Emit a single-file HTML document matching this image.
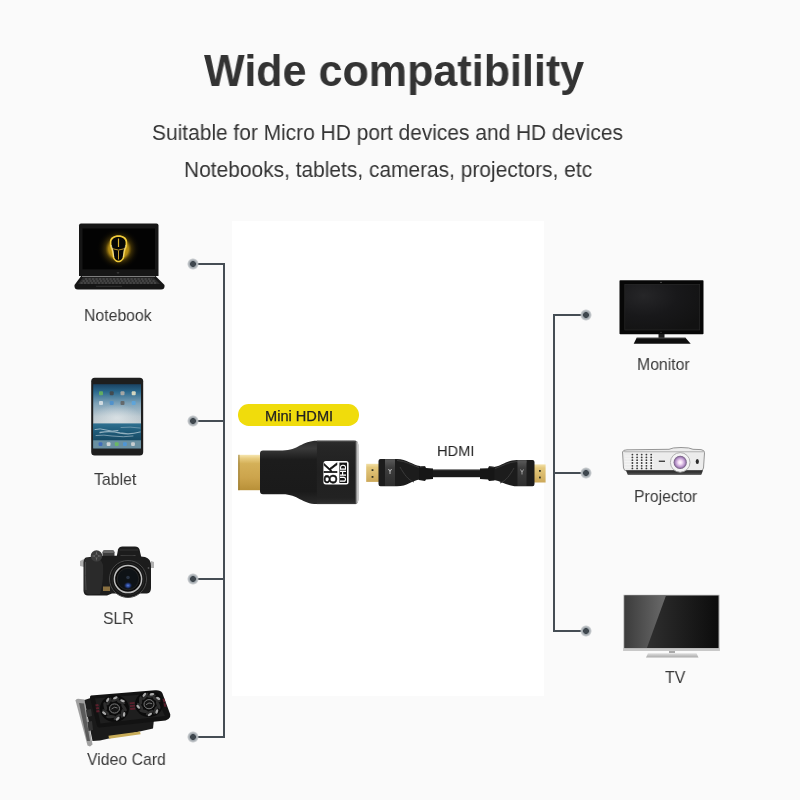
<!DOCTYPE html>
<html><head><meta charset="utf-8">
<style>
html,body{margin:0;padding:0;}
body{width:800px;height:800px;position:relative;overflow:hidden;background:#fafafa;font-family:"Liberation Sans",sans-serif;}
.a{position:absolute;}
.t{position:absolute;white-space:nowrap;line-height:1;will-change:transform;}
.title{font-weight:bold;font-size:44px;color:#333;transform-origin:0 0;transform:scaleX(0.979);}
.sub{font-size:22px;color:#333;transform-origin:0 0;transform:scaleX(0.951);}
.lbl{font-size:17px;color:#3a3a3a;transform-origin:0 0;transform:scaleX(0.93);}
.ln{position:absolute;background:#454d54;}
.dot{position:absolute;width:12px;height:12px;border-radius:50%;background:radial-gradient(circle at center,#3f474e 0,#3f474e 2.6px,#9ba2a8 3.2px,#b6bbbf 4.4px,rgba(190,194,198,0.6) 5.3px,rgba(250,250,250,0) 6px);}
</style></head>
<body>
<div class="a" style="left:232px;top:221px;width:312px;height:475px;background:#fff"></div>

<div class="t title" id="title" style="left:203.5px;top:48.5px">Wide compatibility</div>
<div class="t sub" id="sub1" style="left:152px;top:121.7px">Suitable for Micro HD port devices and HD devices</div>
<div class="t sub" id="sub2" style="left:184px;top:158.5px">Notebooks, tablets, cameras, projectors, etc</div>

<!-- left connector lines -->
<div class="ln" style="left:223px;top:263px;width:2px;height:475px"></div>
<div class="ln" style="left:193px;top:263px;width:31px;height:2px"></div>
<div class="ln" style="left:193px;top:420px;width:31px;height:2px"></div>
<div class="ln" style="left:193px;top:578px;width:31px;height:2px"></div>
<div class="ln" style="left:193px;top:736px;width:31px;height:2px"></div>
<div class="dot" style="left:187.0px;top:258.0px"></div>
<div class="dot" style="left:187.0px;top:415.0px"></div>
<div class="dot" style="left:187.0px;top:573.0px"></div>
<div class="dot" style="left:187.0px;top:731.0px"></div>

<!-- right connector lines -->
<div class="ln" style="left:553px;top:314px;width:2px;height:318px"></div>
<div class="ln" style="left:553px;top:314px;width:33px;height:2px"></div>
<div class="ln" style="left:553px;top:472px;width:33px;height:2px"></div>
<div class="ln" style="left:553px;top:630px;width:33px;height:2px"></div>
<div class="dot" style="left:580.0px;top:309.0px"></div>
<div class="dot" style="left:580.0px;top:467.0px"></div>
<div class="dot" style="left:580.0px;top:625.0px"></div>


<svg class="a" style="left:0;top:0" width="800" height="800" viewBox="0 0 800 800">
<defs>
<radialGradient id="glow" cx="0.5" cy="0.5" r="0.5">
<stop offset="0" stop-color="#f0c020" stop-opacity="1"/>
<stop offset="0.45" stop-color="#d8a818" stop-opacity="0.8"/>
<stop offset="0.6" stop-color="#9a760c" stop-opacity="0.35"/>
<stop offset="0.8" stop-color="#5a4406" stop-opacity="0.12"/>
<stop offset="1" stop-color="#000" stop-opacity="0"/>
</radialGradient>
<linearGradient id="tabscr" x1="0" y1="0" x2="0" y2="1">
<stop offset="0" stop-color="#1a4262"/>
<stop offset="0.12" stop-color="#2c6a8e"/>
<stop offset="0.3" stop-color="#7ea2b8"/>
<stop offset="0.5" stop-color="#b8c6ce"/>
<stop offset="0.61" stop-color="#c6ced2"/>
<stop offset="0.62" stop-color="#2a6a88"/>
<stop offset="1" stop-color="#3d6d84"/>
</linearGradient>
<linearGradient id="sea" x1="0" y1="0" x2="0" y2="1">
<stop offset="0" stop-color="#2f7090"/>
<stop offset="0.5" stop-color="#1e5a78"/>
<stop offset="1" stop-color="#174a64"/>
</linearGradient>
<linearGradient id="gold" x1="0" y1="0" x2="0" y2="1">
<stop offset="0" stop-color="#d8b868"/>
<stop offset="0.5" stop-color="#c89a3c"/>
<stop offset="1" stop-color="#b08030"/>
</linearGradient>
<radialGradient id="lensp" cx="0.5" cy="0.5" r="0.5">
<stop offset="0" stop-color="#ffffff"/>
<stop offset="0.3" stop-color="#f4dcf4"/>
<stop offset="0.7" stop-color="#b894cc"/>
<stop offset="1" stop-color="#6a5478"/>
</radialGradient>
<linearGradient id="tvscr" x1="0" y1="0" x2="1" y2="0">
<stop offset="0" stop-color="#3a3a3a"/>
<stop offset="1" stop-color="#0c0c0c"/>
</linearGradient>
<linearGradient id="refl" x1="0" y1="0" x2="1" y2="0">
<stop offset="0" stop-color="#3c3c3c"/>
<stop offset="1" stop-color="#727272"/>
</linearGradient>
<radialGradient id="bluel" cx="0.5" cy="0.5" r="0.5">
<stop offset="0" stop-color="#5a80e0"/>
<stop offset="0.5" stop-color="#2a48a0" stop-opacity="0.8"/>
<stop offset="1" stop-color="#101830" stop-opacity="0"/>
</radialGradient>
<linearGradient id="pbase" x1="0" y1="0" x2="0" y2="1">
<stop offset="0" stop-color="#2a2a2a"/>
<stop offset="0.6" stop-color="#3a3a3a"/>
<stop offset="1" stop-color="#707070"/>
</linearGradient>
<radialGradient id="monscr" cx="0.25" cy="0.25" r="0.9">
<stop offset="0" stop-color="#262628"/>
<stop offset="0.5" stop-color="#18181a"/>
<stop offset="1" stop-color="#121212"/>
</radialGradient>
<linearGradient id="stand" x1="0" y1="0" x2="0" y2="1">
<stop offset="0" stop-color="#e0e0e0"/>
<stop offset="1" stop-color="#a8a8a8"/>
</linearGradient>
<radialGradient id="skyglow" cx="0.5" cy="0.5" r="0.5">
<stop offset="0" stop-color="#e4eaec" stop-opacity="0.7"/>
<stop offset="1" stop-color="#e4eaec" stop-opacity="0"/>
</radialGradient>
<clipPath id="tabclip"><rect x="93.2" y="384.2" width="47.8" height="39.3"/></clipPath>
<clipPath id="lapclip"><rect x="82.5" y="228.5" width="72.5" height="40.8"/></clipPath>
<linearGradient id="wide" x1="0" y1="0" x2="0" y2="1">
<stop offset="0" stop-color="#2c2c2c"/>
<stop offset="0.1" stop-color="#262626"/>
<stop offset="0.5" stop-color="#202020"/>
<stop offset="0.9" stop-color="#222"/>
<stop offset="1" stop-color="#2e2e2e"/>
</linearGradient>
</defs>

<!-- ===== Laptop ===== -->
<path d="M79,225.5 Q79,223.5 81,223.5 L156.5,223.5 Q158.5,223.5 158.5,225.5 L158.5,276 L79,276 Z" fill="#161616"/>
<rect x="82.5" y="228.5" width="72.5" height="40.8" fill="#030303"/>
<ellipse cx="118.5" cy="249" rx="22" ry="21" fill="url(#glow)" clip-path="url(#lapclip)"/>
<path d="M118.5,235.3 C123,235.3 127.2,237.5 127.2,242 L127,246.5 L125.2,251 L124.2,257.5 C123.5,260 121,262.3 118.5,262.3 C116,262.3 113.5,260 112.8,257.5 L111.8,251 L110,246.5 L109.8,242 C109.8,237.5 114,235.3 118.5,235.3 Z" fill="#f2cc3a"/>
<path d="M118.5,237 C122,237 125.6,238.8 125.6,242.5 L125.4,246.5 L123.8,250.5 L122.8,257 C122.2,259.3 120.5,260.8 118.5,260.8 C116.5,260.8 114.8,259.3 114.2,257 L113.2,250.5 L111.6,246.5 L111.4,242.5 C111.4,238.8 115,237 118.5,237 Z" fill="#060606"/>
<path d="M118.5,238.5 L118.5,247" stroke="#d8b030" stroke-width="1.2"/>
<path d="M112,248.6 Q118.5,251.5 125,248.6" stroke="#c8a030" stroke-width="0.9" fill="none"/>
<path d="M118.5,250.5 L118.5,259.5" stroke="#c8a030" stroke-width="1"/>
<path d="M111.2,245 L113,251 L113.8,257" stroke="#f8f0d0" stroke-width="0.8" fill="none" opacity="0.8"/>
<path d="M125.8,245 L124,251 L123.2,257" stroke="#f8f0d0" stroke-width="0.8" fill="none" opacity="0.6"/>
<path d="M117,272 L118,273.5 L119,272" stroke="#555" stroke-width="0.6" fill="none"/>
<path d="M81.5,275.5 L155,275.5 L164.5,285 Q165,289.5 161,289.5 L78,289.5 Q74,289.5 74.5,285 Z" fill="#161616"/>
<path d="M82,276.5 L155,276.5" stroke="#8a8a8a" stroke-width="0.9"/>
<path d="M83,277.5 L153.5,277.5 L160,284 L78,284 Z" fill="#2c2c2c"/>
<g stroke="#5a5a5a" stroke-width="1" stroke-dasharray="2.2,1.3">
<path d="M85,279 L152,279"/>
<path d="M82.5,281 L155,281"/>
<path d="M80.5,283 L157.5,283"/>
</g>
<path d="M96,286.3 L122,286.3" stroke="#3a3a3a" stroke-width="0.8"/>

<!-- ===== Tablet ===== -->
<rect x="91.2" y="377.7" width="52" height="77.8" rx="3.5" fill="#1e1e1e"/>
<rect x="93.2" y="384.2" width="47.8" height="64.2" fill="url(#tabscr)"/>
<ellipse cx="117" cy="418" rx="24" ry="14" fill="url(#skyglow)" clip-path="url(#tabclip)"/>
<rect x="93.2" y="423.5" width="47.8" height="17" fill="url(#sea)"/>
<g stroke="#dfeaf0" stroke-linecap="round" fill="none" opacity="0.6">
<path d="M95,429.5 Q100,428 106,430 T118,430.5" stroke-width="1"/>
<path d="M100,432.5 Q110,430.5 120,433 Q130,435 140,432" stroke-width="1.3"/>
<path d="M96,435.5 Q104,434.5 112,436 Q124,437.5 133,436" stroke-width="0.8"/>
<path d="M121,427.5 Q130,426.5 140,428" stroke-width="0.6"/>
</g>
<rect x="93.2" y="440.3" width="47.8" height="8.1" fill="#7b9cab" opacity="0.75"/>
<g opacity="0.85">
<rect x="99" y="391.2" width="4" height="4" rx="1" fill="#6ab85a"/>
<rect x="109.7" y="391.2" width="4" height="4" rx="1" fill="#444"/>
<rect x="120.5" y="391.2" width="4" height="4" rx="1" fill="#b8b0a8"/>
<rect x="131.7" y="391.2" width="4" height="4" rx="1" fill="#f0e8c8"/>
<rect x="99" y="401" width="4" height="4" rx="1" fill="#e0e6e8"/>
<rect x="109.7" y="401" width="4" height="4" rx="1" fill="#4a90d0"/>
<rect x="120.5" y="401" width="4" height="4" rx="1" fill="#606060"/>
<rect x="131.7" y="401" width="4" height="4" rx="1" fill="#5aa6e0"/>
<rect x="98.6" y="442.3" width="3.8" height="3.8" rx="1" fill="#3a68c0"/>
<rect x="106.7" y="442.3" width="3.8" height="3.8" rx="1" fill="#e0e0e0"/>
<rect x="114.8" y="442.3" width="3.8" height="3.8" rx="1" fill="#6ac05a"/>
<rect x="123" y="442.3" width="3.8" height="3.8" rx="1" fill="#4a98e0"/>
<rect x="131.1" y="442.3" width="3.8" height="3.8" rx="1" fill="#d8d8d8"/>
</g>
<!-- ===== Camera ===== -->
<path d="M80,561 L84,559 L84,567 L80,566 Z" fill="#b0b0b0"/>
<path d="M151,561 L154,562 L154,568 L151,568 Z" fill="#b0b0b0"/>
<path d="M116.5,558 L118,549.5 Q119,546.5 122.5,546.5 L135,546.5 Q138.5,546.5 139.5,549.5 L141.5,558 Z" fill="#1c1c1c"/>
<path d="M119.5,550 L138,550" stroke="#3a3a3a" stroke-width="0.8"/>
<rect x="120.5" y="555.6" width="15" height="1.3" fill="#9a9a9a"/>
<rect x="102.5" y="550.3" width="12" height="8" rx="2" fill="#3e3e3e"/>
<rect x="103" y="550.5" width="11" height="2.5" rx="1" fill="#6a6a6a"/>
<path d="M86,557.5 Q84,558 83.5,562 L83.5,591 Q84,595.5 88,595.5 L107,595.5 L112,593.5 L147,593.5 Q151,593 151,588 L151,566 Q151,558.5 145,557 L132,555.5 L98,556 Z" fill="#1c1c1c"/>
<path d="M86,558 Q84,560 84,566 L84,590 Q85,594 90,594.5 L100,594 Q104,580 103,565 Q101,558 95,557.5 Z" fill="#2a2a2a"/>
<path d="M85.5,562 Q85,575 86,590" stroke="#4a4a4a" stroke-width="1" fill="none"/>
<circle cx="96.5" cy="556" r="5.8" fill="#3c3c3c"/>
<path d="M96.5,551 L97.5,555 L101.5,556 L97.5,557 L96.5,561 L95.5,557 L91.5,556 L95.5,555 Z" fill="#6a6a6a"/>
<circle cx="96.5" cy="556" r="1.6" fill="#3a3a3a"/>
<rect x="103" y="586.5" width="7" height="4.5" fill="#8a7040"/>
<circle cx="128" cy="579" r="18.5" fill="#141414" stroke="#4a4a4a" stroke-width="1"/>
<circle cx="128" cy="579" r="16" fill="none" stroke="#262626" stroke-width="1.2"/>
<circle cx="128" cy="579" r="13.6" fill="#0a0a0a" stroke="#bcbcbc" stroke-width="1.5"/>
<circle cx="128" cy="579" r="10.8" fill="#0e1216" stroke="#2a2a2a" stroke-width="0.8"/>
<ellipse cx="128" cy="585.5" rx="4.5" ry="3.8" fill="url(#bluel)"/>
<circle cx="128" cy="577.5" r="1.8" fill="#2a3444"/>
<circle cx="148.5" cy="568" r="0.9" fill="#555"/>
<!-- ===== Video card ===== -->
<path d="M75.5,700.5 Q76,698.8 78,698.8 L84.5,699.5 L92.5,744.5 L90,746.5 L87.5,745.5 Z" fill="#a0a0a0"/>
<path d="M79,703 L84,703.5 L90,741 L87,741 Z" fill="#5a5a5a"/>
<path d="M84.5,700 L92,697.5 L154,719 L153,728.5 L100,740.5 L92.5,741 Z" fill="#1a1a1a"/>
<path d="M86,710 L91,709 L92,716 L87,717 Z M87.5,722 L92,721 L93,730 L88.5,731 Z" fill="#333"/>
<path d="M108.5,735.8 L140,731.5 L140.6,734.2 L109,738.8 Z" fill="#c8ac58"/>
<path d="M91,695.5 L155,690.3 Q160.5,689.8 162.3,693 L170.3,714.5 Q170.8,717 168.5,719 L165.5,720.6 L99.5,727.6 Q97.5,727.8 97,725.8 L90,698 Q89.8,695.8 91,695.5 Z" fill="#121212"/>
<path d="M95,698.5 L154,693.5 L165,716 L100.5,723.5 Z" fill="#1e1e1e"/>
<ellipse cx="114.5" cy="708.5" rx="14.5" ry="13.34" fill="#0b0b0b"/>
<ellipse cx="108.87" cy="701.38" rx="4.4" ry="1.6" transform="rotate(-61.1 108.87 701.38)" fill="#2e2e2e"/>
<ellipse cx="115.16" cy="699.72" rx="4.4" ry="1.6" transform="rotate(-21.1 115.16 699.72)" fill="#2e2e2e"/>
<ellipse cx="121.14" cy="702.16" rx="4.4" ry="1.6" transform="rotate(18.9 121.14 702.16)" fill="#2e2e2e"/>
<ellipse cx="124.02" cy="707.57" rx="4.4" ry="1.6" transform="rotate(58.9 124.02 707.57)" fill="#2e2e2e"/>
<ellipse cx="122.44" cy="713.42" rx="4.4" ry="1.6" transform="rotate(98.9 122.44 713.42)" fill="#2e2e2e"/>
<ellipse cx="117.15" cy="716.96" rx="4.4" ry="1.6" transform="rotate(138.9 117.15 716.96)" fill="#2e2e2e"/>
<ellipse cx="110.62" cy="716.55" rx="4.4" ry="1.6" transform="rotate(178.9 110.62 716.55)" fill="#2e2e2e"/>
<ellipse cx="105.90" cy="712.37" rx="4.4" ry="1.6" transform="rotate(218.9 105.90 712.37)" fill="#2e2e2e"/>
<ellipse cx="105.21" cy="706.38" rx="4.4" ry="1.6" transform="rotate(258.9 105.21 706.38)" fill="#2e2e2e"/>
<ellipse cx="107.67" cy="699.87" rx="2.4" ry="1.2" transform="rotate(-61.1 107.67 699.87)" fill="#cfcfcf" opacity="0.8"/>
<ellipse cx="115.30" cy="697.85" rx="2.4" ry="1.2" transform="rotate(-21.1 115.30 697.85)" fill="#cfcfcf" opacity="0.8"/>
<ellipse cx="122.55" cy="700.82" rx="2.4" ry="1.2" transform="rotate(18.9 122.55 700.82)" fill="#cfcfcf" opacity="0.8"/>
<ellipse cx="124.12" cy="714.46" rx="2.4" ry="1.2" transform="rotate(98.9 124.12 714.46)" fill="#cfcfcf" opacity="0.8"/>
<ellipse cx="117.71" cy="718.76" rx="2.4" ry="1.2" transform="rotate(138.9 117.71 718.76)" fill="#cfcfcf" opacity="0.8"/>
<ellipse cx="104.08" cy="713.19" rx="2.4" ry="1.2" transform="rotate(218.9 104.08 713.19)" fill="#cfcfcf" opacity="0.8"/>
<ellipse cx="114.5" cy="708.5" rx="5" ry="4.60" fill="#141414" stroke="#7a7a7a" stroke-width="1"/>
<path d="M111.5,709.0 Q114.5,706.0 117.5,708.0" stroke="#8a8a8a" stroke-width="0.8" fill="none"/>
<ellipse cx="149" cy="704.2" rx="14" ry="12.88" fill="#0b0b0b"/>
<ellipse cx="145.15" cy="696.47" rx="4.4" ry="1.6" transform="rotate(-49.6 145.15 696.47)" fill="#2e2e2e"/>
<ellipse cx="151.46" cy="696.00" rx="4.4" ry="1.6" transform="rotate(-9.6 151.46 696.00)" fill="#2e2e2e"/>
<ellipse cx="156.61" cy="699.37" rx="4.4" ry="1.6" transform="rotate(30.4 156.61 699.37)" fill="#2e2e2e"/>
<ellipse cx="158.20" cy="705.00" rx="4.4" ry="1.6" transform="rotate(70.4 158.20 705.00)" fill="#2e2e2e"/>
<ellipse cx="155.49" cy="710.25" rx="4.4" ry="1.6" transform="rotate(110.4 155.49 710.25)" fill="#2e2e2e"/>
<ellipse cx="149.74" cy="712.67" rx="4.4" ry="1.6" transform="rotate(150.4 149.74 712.67)" fill="#2e2e2e"/>
<ellipse cx="143.65" cy="711.13" rx="4.4" ry="1.6" transform="rotate(190.4 143.65 711.13)" fill="#2e2e2e"/>
<ellipse cx="140.06" cy="706.34" rx="4.4" ry="1.6" transform="rotate(230.4 140.06 706.34)" fill="#2e2e2e"/>
<ellipse cx="140.65" cy="700.55" rx="4.4" ry="1.6" transform="rotate(270.4 140.65 700.55)" fill="#2e2e2e"/>
<ellipse cx="144.34" cy="694.83" rx="2.4" ry="1.2" transform="rotate(-49.6 144.34 694.83)" fill="#cfcfcf" opacity="0.8"/>
<ellipse cx="151.98" cy="694.27" rx="2.4" ry="1.2" transform="rotate(-9.6 151.98 694.27)" fill="#cfcfcf" opacity="0.8"/>
<ellipse cx="158.22" cy="698.35" rx="2.4" ry="1.2" transform="rotate(30.4 158.22 698.35)" fill="#cfcfcf" opacity="0.8"/>
<ellipse cx="156.86" cy="711.54" rx="2.4" ry="1.2" transform="rotate(110.4 156.86 711.54)" fill="#cfcfcf" opacity="0.8"/>
<ellipse cx="149.90" cy="714.47" rx="2.4" ry="1.2" transform="rotate(150.4 149.90 714.47)" fill="#cfcfcf" opacity="0.8"/>
<ellipse cx="138.16" cy="706.80" rx="2.4" ry="1.2" transform="rotate(230.4 138.16 706.80)" fill="#cfcfcf" opacity="0.8"/>
<ellipse cx="149" cy="704.2" rx="5" ry="4.60" fill="#141414" stroke="#7a7a7a" stroke-width="1"/>
<path d="M146,704.7 Q149,701.7 152,703.7" stroke="#8a8a8a" stroke-width="0.8" fill="none"/>
<g fill="#6a2030" opacity="0.8"><path d="M95.2,704.5 L98.2,704 L98.8,706 L95.8,706.5 Z M95.6,707.5 L98.6,707 L99.2,709 L96.2,709.5 Z M96,710.5 L99,710 L99.6,712 L96.6,712.5 Z"/><path d="M129.5,702.5 L134.5,702 L134.8,703.8 L129.8,704.3 Z M129.8,705.3 L134.8,704.8 L135.1,706.6 L130.1,707.1 Z M130.1,708.1 L135.1,707.6 L135.4,709.4 L130.4,709.9 Z"/><path d="M162.5,699 L164.5,698.6 L165.5,702 L163.5,702.4 Z M163.5,703.5 L165.5,703.1 L166.5,706.5 L164.5,706.9 Z"/></g>
<!-- ===== Monitor ===== -->
<rect x="619.5" y="280.2" width="84" height="54" rx="0.8" fill="#070707"/>
<rect x="624.8" y="284.3" width="74.9" height="45.7" fill="url(#monscr)"/>
<rect x="624.8" y="284.3" width="74.9" height="45.7" fill="none" stroke="#2c2c2c" stroke-width="0.6"/>
<circle cx="661" cy="282.3" r="0.6" fill="#888"/>
<circle cx="661" cy="332.2" r="0.5" fill="#666"/>
<rect x="658.5" y="334" width="6" height="4.5" fill="#1c1c1c"/>
<path d="M636.7,337.8 L685.5,337.8 L690.7,343.8 L633.7,343.8 Z" fill="#0e0e0e"/>
<path d="M636.7,338 L685.5,338" stroke="#6a6a6a" stroke-width="0.7"/>
<!-- ===== Projector ===== -->
<path d="M622.5,452 Q623,449.8 627,449.8 L669,449.3 Q672,447.5 681,447.5 Q690,447.5 693,449.3 L701,449.6 Q704.5,450 704.5,453 L703.5,468 Q703,471 700,471 L627,471 Q624,471 623.5,468 Z" fill="#ececec" stroke="#8a8a8a" stroke-width="0.9"/>
<path d="M623.5,451.5 L704.5,451.5" stroke="#a0a0a0" stroke-width="0.7"/>
<path d="M624.5,451.8 L704,451.8 L704,453 L624.5,453 Z" fill="#dcdcdc"/>
<g stroke="#fafafa" stroke-width="0.6"><path d="M624.5,456 L654,456 M624.5,458.8 L654,458.8 M624.5,461.6 L654,461.6 M624.5,464.4 L654,464.4 M624.5,467.2 L654,467.2"/></g>
<path d="M626,470.3 L703,470.3 L701.5,474.4 Q701,475 700,475 L629,475 Q628,475 627.5,474.4 Z" fill="url(#pbase)"/>
<g fill="#383838">
<circle cx="632.4" cy="454.6" r="0.9"/><circle cx="637.1" cy="454.6" r="0.9"/><circle cx="641.7" cy="454.6" r="0.9"/><circle cx="646.4" cy="454.6" r="0.9"/><circle cx="651.2" cy="454.6" r="0.9"/>
<circle cx="632.4" cy="457.4" r="0.9"/><circle cx="637.1" cy="457.4" r="0.9"/><circle cx="641.7" cy="457.4" r="0.9"/><circle cx="646.4" cy="457.4" r="0.9"/><circle cx="651.2" cy="457.4" r="0.9"/>
<circle cx="632.4" cy="460.2" r="0.9"/><circle cx="637.1" cy="460.2" r="0.9"/><circle cx="641.7" cy="460.2" r="0.9"/><circle cx="646.4" cy="460.2" r="0.9"/><circle cx="651.2" cy="460.2" r="0.9"/>
<circle cx="632.4" cy="463" r="0.9"/><circle cx="637.1" cy="463" r="0.9"/><circle cx="641.7" cy="463" r="0.9"/><circle cx="646.4" cy="463" r="0.9"/><circle cx="651.2" cy="463" r="0.9"/>
<circle cx="632.4" cy="465.8" r="0.9"/><circle cx="637.1" cy="465.8" r="0.9"/><circle cx="641.7" cy="465.8" r="0.9"/><circle cx="646.4" cy="465.8" r="0.9"/><circle cx="651.2" cy="465.8" r="0.9"/>
<circle cx="632.4" cy="468.4" r="0.9"/><circle cx="637.1" cy="468.4" r="0.9"/><circle cx="641.7" cy="468.4" r="0.9"/><circle cx="646.4" cy="468.4" r="0.9"/><circle cx="651.2" cy="468.4" r="0.9"/>
</g>
<rect x="658.8" y="460.6" width="6.2" height="1.3" fill="#333"/>
<circle cx="680.2" cy="462.4" r="9.8" fill="#f4f4f4" stroke="#a8a8a8" stroke-width="0.9"/>
<circle cx="680.2" cy="462.4" r="6.6" fill="url(#lensp)"/>
<ellipse cx="697.3" cy="461.5" rx="1.6" ry="2.6" fill="#2a2a2a"/>

<!-- ===== TV ===== -->
<rect x="623.5" y="594.8" width="96" height="56.2" fill="#a8a8a8"/>
<rect x="624.5" y="595.6" width="94" height="52.6" fill="url(#tvscr)"/>
<path d="M624.5,595.6 L666,595.6 L646.8,648.2 L624.5,648.2 Z" fill="url(#refl)" opacity="0.9"/>
<rect x="623.5" y="648.2" width="96" height="2.8" fill="#c8c8c8"/>
<path d="M648,653.2 L696.5,653.2 L698.5,657.6 L646,657.6 Z" fill="url(#stand)"/>
<path d="M669,651 L675,651 L675,653 L669,653 Z" fill="#aaa"/>

<!-- ===== Center adapter ===== -->
<defs>
<linearGradient id="goldp" x1="0" y1="0" x2="0" y2="1">
<stop offset="0" stop-color="#f6e6b0"/>
<stop offset="0.1" stop-color="#e8cc80"/>
<stop offset="0.25" stop-color="#d4b058"/>
<stop offset="0.65" stop-color="#ccA44c"/>
<stop offset="1" stop-color="#b89038"/>
</linearGradient>
<linearGradient id="body" x1="0" y1="0" x2="0" y2="1">
<stop offset="0" stop-color="#2a2a2a"/>
<stop offset="0.12" stop-color="#3a3a3a"/>
<stop offset="0.3" stop-color="#1c1c1c"/>
<stop offset="0.8" stop-color="#1a1a1a"/>
<stop offset="1" stop-color="#2a2a2a"/>
</linearGradient>
<linearGradient id="rim" x1="0" y1="0" x2="1" y2="0">
<stop offset="0" stop-color="#202020"/>
<stop offset="0.5" stop-color="#9a9a9a"/>
<stop offset="1" stop-color="#e8e8e8"/>
</linearGradient>
<linearGradient id="gtip" x1="0" y1="0" x2="0" y2="1">
<stop offset="0" stop-color="#f2e0a8"/>
<stop offset="0.2" stop-color="#e4c87c"/>
<stop offset="1" stop-color="#cca858"/>
</linearGradient>
<linearGradient id="band" x1="0" y1="0" x2="0" y2="1">
<stop offset="0" stop-color="#5a5a5a"/>
<stop offset="0.3" stop-color="#3e3e3e"/>
<stop offset="1" stop-color="#2e2e2e"/>
</linearGradient>
</defs>
<rect x="238.1" y="454.8" width="22.5" height="35.4" fill="url(#goldp)"/>
<rect x="238.1" y="454.8" width="1.6" height="35.4" fill="#8a7030" opacity="0.5"/>
<path d="M260,453.4 Q260,450.4 263,450.4 L282.7,450.4 C298,450.4 302,440.7 316.9,440.7 L354,440.7 Q358.3,440.7 358.3,445 L358.3,499.8 Q358.3,504.1 354,504.1 L316.9,504.1 C302,504.1 298,494.3 282.7,494.3 L263,494.3 Q260,494.3 260,491.3 Z" fill="url(#body)"/>
<rect x="316.9" y="440.7" width="39" height="63.4" fill="url(#wide)"/>
<path d="M316.9,441.5 L355,441.5" stroke="#444" stroke-width="1"/>
<path d="M316.9,503.3 L355,503.3" stroke="#3a3a3a" stroke-width="1"/>
<path d="M355,441 L357,441 Q358.3,442 358.3,445 L358.3,499.8 Q358.3,503 357,504 L355,504 Z" fill="url(#rim)"/>
<rect x="323.4" y="461" width="25.2" height="23.6" rx="2.5" fill="#fff"/>
<rect x="339.4" y="462.6" width="7.6" height="20.4" fill="#141414"/>
<text transform="translate(337.4,484) rotate(-90)" font-family="Liberation Sans" font-weight="normal" font-size="18" stroke="#111" stroke-width="0.5" fill="#111" textLength="21.5" lengthAdjust="spacingAndGlyphs">8K</text>
<text transform="translate(346.3,482.2) rotate(-90)" font-family="Liberation Sans" font-weight="bold" font-size="9.2" fill="#fff" textLength="17.8" lengthAdjust="spacingAndGlyphs">UHD</text>

<!-- ===== Cable ===== -->
<rect x="430" y="469.6" width="52" height="7.6" fill="#1a1a1a"/>
<path d="M430,470.2 L482,470.2" stroke="#3a3a3a" stroke-width="0.8"/>
<!-- left connector -->
<rect x="366.2" y="463.8" width="13" height="18.1" fill="url(#gtip)"/>
<rect x="371.6" y="469.2" width="1.8" height="1.8" fill="#332"/>
<rect x="371.6" y="476" width="1.8" height="1.8" fill="#332"/>
<path d="M378.5,461 Q378.5,459 380.5,459 L397,459 C407,459 412,465 420,466 L420,479.5 C412,480.5 407,486.3 397,486.3 L380.5,486.3 Q378.5,486.3 378.5,484 Z" fill="#1c1c1c"/>
<rect x="385" y="459.4" width="10" height="26.6" fill="url(#band)"/>
<rect x="385" y="459.4" width="10" height="2" fill="#555"/>
<path d="M397,460.5 C406,461 411,465 419,467.5 M400,467 C404,474 408,480 414,482" stroke="#3a3a3a" stroke-width="1" fill="none"/>
<path d="M419,466.5 L425,466 L426,468 L433,468.5 L433,479 L426,479.5 L425,481 L419,480 Z" fill="#161616"/>
<path d="M420,467 L425,466.5" stroke="#444" stroke-width="0.8"/>
<path d="M388.5,469 L390,471.5 L391.5,469 M390,471.5 L390,474" stroke="#ddd" stroke-width="0.8" fill="none"/>
<!-- right connector -->
<rect x="533" y="464.4" width="12.6" height="18.1" fill="url(#gtip)"/>
<rect x="539" y="470" width="1.8" height="1.8" fill="#332"/>
<rect x="539" y="476.6" width="1.8" height="1.8" fill="#332"/>
<path d="M534.5,462 Q534.5,460 532.5,460 L517,460 C507,460 502,466 494,467 L494,480 C502,481 507,486.3 517,486.3 L532.5,486.3 Q534.5,486.3 534.5,484 Z" fill="#1c1c1c"/>
<rect x="517.5" y="460.4" width="9" height="25.6" fill="url(#band)"/>
<rect x="517.5" y="460.4" width="9" height="2" fill="#555"/>
<path d="M517,461.5 C508,462 503,466 495,468.5 M514,468 C510,475 506,481 500,483" stroke="#3a3a3a" stroke-width="1" fill="none"/>
<path d="M494.5,467 L489,466.3 L488,468.3 L480,468.6 L480,479 L488,479.5 L489,481 L494.5,480.5 Z" fill="#161616"/>
<path d="M494,467.2 L489,466.6" stroke="#444" stroke-width="0.8"/>
<path d="M520.5,469.5 L522,472 L523.5,469.5 M522,472 L522,474.5" stroke="#bbb" stroke-width="0.8" fill="none"/>
</svg>
<!-- labels -->
<div class="a" style="left:237.9px;top:404.2px;width:121.3px;height:21.4px;border-radius:10.7px;background:#f0dc0c"></div>
<div class="t" id="mini" style="left:265px;top:409px;font-size:14.6px;color:#222;-webkit-text-stroke:0.25px #222">Mini HDMI</div>
<div class="t" id="hdmi" style="left:437px;top:443px;font-size:15px;color:#222;transform-origin:0 0;transform:scaleX(0.975)">HDMI</div>

<div class="t lbl" style="left:84px;top:307.15px">Notebook</div>
<div class="t lbl" style="left:94px;top:471.15px">Tablet</div>
<div class="t lbl" style="left:103px;top:610.15px">SLR</div>
<div class="t lbl" style="left:87px;top:751.15px">Video Card</div>
<div class="t lbl" style="left:637px;top:356.15px">Monitor</div>
<div class="t lbl" style="left:634px;top:488.15px">Projector</div>
<div class="t lbl" style="left:665px;top:669.15px">TV</div>

</body></html>
